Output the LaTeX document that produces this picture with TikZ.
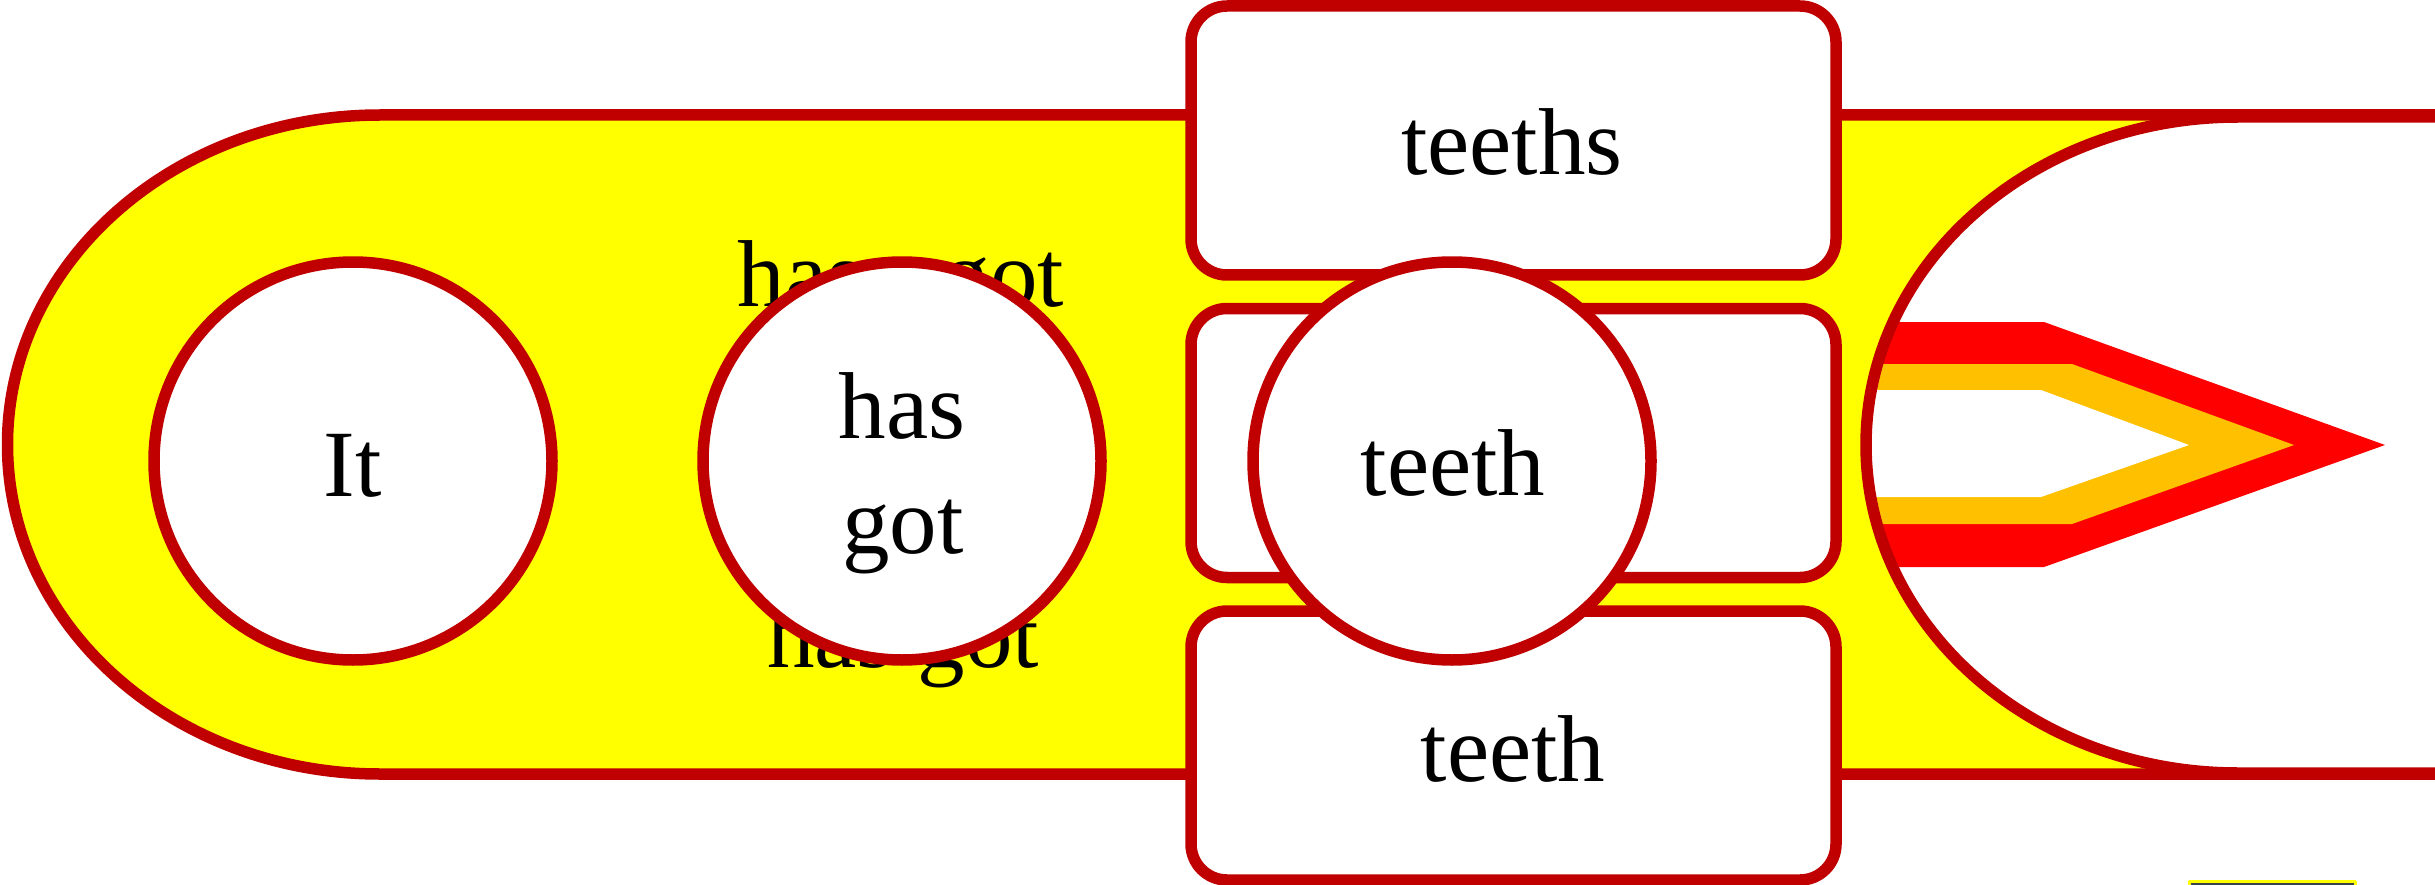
\documentclass[tikz,border=0pt]{standalone}
\usepackage{fontspec}
\setmainfont{Liberation Serif}
\definecolor{dred}{HTML}{C00000}
\definecolor{yel}{HTML}{FFFF00}
\definecolor{org}{HTML}{FFC000}
\definecolor{brightred}{HTML}{FF0000}
\definecolor{slate}{HTML}{3B4248}
\begin{document}
\begin{tikzpicture}[x=1pt,y=-1pt,line join=round]
\tikzset{
  outl/.style={draw=dred,line width=11.5pt},
  circ/.style={outl,circle,fill=white,minimum size=398pt,inner sep=0pt},
  tbox/.style={outl,rectangle,rounded corners=36pt,fill=white,minimum width=645pt,minimum height=269pt,inner sep=0pt},
  lbl/.style={font=\fontsize{95}{115}\selectfont,anchor=base,inner sep=0pt,text=black},
}
\useasboundingbox (0,0) rectangle (2435,885);
\fill[white] (0,0) rectangle (2435,885);
\begin{scope}
\clip (0,0) rectangle (2435,885);
% yellow band
\path[outl,fill=yel] (2700,115) -- (380,115) arc[start angle=270,end angle=90,x radius=372.5,y radius=329.5] -- (2700,774) -- cycle;
% white band on the right
\path[fill=white] (2700,117) -- (2238,117) arc[start angle=270,end angle=90,x radius=372,y radius=328] -- (2700,773) -- cycle;
\begin{scope}
\clip (2700,117) -- (2238,117) arc[start angle=270,end angle=90,x radius=372,y radius=328] -- (2700,773) -- cycle;
\fill[brightred] (1800,322) -- (2044,322) -- (2385,445) -- (2044,567) -- (1800,567) -- cycle;
\fill[org] (1800,364) -- (2072,364) -- (2294,445) -- (2072,524) -- (1800,524) -- cycle;
\fill[white] (1800,390) -- (2041,390) -- (2189,445) -- (2041,497) -- (1800,497) -- cycle;
\end{scope}
\path[outl] (2700,117) -- (2238,117) arc[start angle=270,end angle=90,x radius=372,y radius=328] -- (2700,773);
% texts behind the middle circle
\node[lbl] (hgtop) at (901,306) {has\hspace{78pt}got};
\node[lbl] (hgbot) at (903,667) {has got};
% boxes
\node[tbox] (b1) at (1513.5,140.5) {};
\node[tbox] (b2) at (1513.5,443) {};
\node[tbox] (b3) at (1513.5,745.5) {};
\node[lbl] (b1t) at (1512,175) {teeths};
\node[lbl] (b3t) at (1513,781) {teeth};
% circles
\node[circ] (it) at (353,461) {};
\node[lbl] (itt) at (353,496) {It};
\node[circ] (hg) at (902,461) {};
\node[lbl] (hga) at (902,438) {has};
\node[lbl] (hgb) at (903,553) {got};
\node[circ] (te) at (1452,461) {};
\node[lbl] (tet) at (1453,495) {teeth};
% small cut-off box at the bottom
\draw[draw=yel,line width=2.7pt,fill=slate] (2189.5,881.3) rectangle (2355.5,930);
\end{scope}
\end{tikzpicture}
\end{document}
